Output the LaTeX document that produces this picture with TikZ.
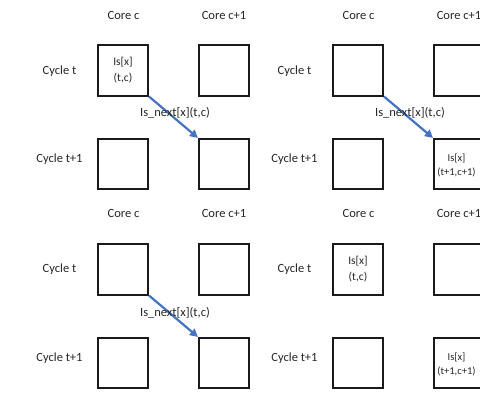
\documentclass[tikz,border=0pt]{standalone}
\usepackage{fontspec}
\setmainfont{Carlito}
\usetikzlibrary{arrows.meta}
\definecolor{arrblue}{HTML}{4472C4}
\definecolor{boxline}{HTML}{1A1A1A}
\begin{document}
\begin{tikzpicture}[x=1pt,y=-1pt,
  cell/.style={draw=boxline,line width=1.6pt,minimum size=50.5pt,inner sep=0pt,align=center},
  lbl/.style={font=\fontsize{12.5}{15}\selectfont,inner sep=0pt,text=black!85},
  intext/.style={font=\fontsize{11.5}{16}\selectfont,text=black!85},
  smalltext/.style={font=\fontsize{10.5}{14}\selectfont,text=black!85},
  flow/.style={draw=arrblue,line width=2.2pt,-{Triangle[length=8pt,width=8pt]}}]
\useasboundingbox (0,0) rectangle (480,392);
\fill[white] (0,0) rectangle (480,392);

% ---------- Panel 1 (top-left)
\node[lbl] (p1cc) at (123.5,15) {Core c};
\node[lbl] (p1cn) at (224,15) {Core c+1};
\node[lbl] (p1ct) at (59.5,71) {Cycle t};
\node[lbl] (p1cn1) at (59.5,159) {Cycle t+1};
\node[cell,intext] (p1a) at (123,70.5) {Is[x]\\(t,c)};
\node[cell] (p1b) at (224,70.5) {};
\node[cell] (p1c) at (123,164) {};
\node[cell] (p1d) at (224,164) {};
\draw[flow] (p1a.south east) -- (p1d.north west);
\node[lbl] (p1l) at (175,113) {Is\_next[x](t,c)};

% ---------- Panel 2 (top-right)
\node[lbl] (p2cc) at (358.5,15) {Core c};
\node[lbl] (p2cn) at (459,15) {Core c+1};
\node[lbl] (p2ct) at (294.5,71) {Cycle t};
\node[lbl] (p2cn1) at (294.5,159) {Cycle t+1};
\node[cell] (p2a) at (358,70.5) {};
\node[cell] (p2b) at (459,70.5) {};
\node[cell] (p2c) at (358,164) {};
\node[cell] (p2d) at (459,164) {};
\node[smalltext,align=center] (p2dt) at (456.5,165) {Is[x]\\(t+1,c+1)};
\draw[flow] (p2a.south east) -- (p2d.north west);
\node[lbl] (p2l) at (410,113) {Is\_next[x](t,c)};

% ---------- Panel 3 (bottom-left)
\node[lbl] (p3cc) at (123.5,213) {Core c};
\node[lbl] (p3cn) at (224,213) {Core c+1};
\node[lbl] (p3ct) at (59.5,269) {Cycle t};
\node[lbl] (p3cn1) at (59.5,358) {Cycle t+1};
\node[cell] (p3a) at (123,269.5) {};
\node[cell] (p3b) at (224,269.5) {};
\node[cell] (p3c) at (123,363) {};
\node[cell] (p3d) at (224,363) {};
\draw[flow] (p3a.south east) -- (p3d.north west);
\node[lbl] (p3l) at (175,313) {Is\_next[x](t,c)};

% ---------- Panel 4 (bottom-right)
\node[lbl] (p4cc) at (358.5,213) {Core c};
\node[lbl] (p4cn) at (459,213) {Core c+1};
\node[lbl] (p4ct) at (294.5,269) {Cycle t};
\node[lbl] (p4cn1) at (294.5,358) {Cycle t+1};
\node[cell,intext] (p4a) at (358,269.5) {Is[x]\\(t,c)};
\node[cell] (p4b) at (459,269.5) {};
\node[cell] (p4c) at (358,363) {};
\node[cell] (p4d) at (459,363) {};
\node[smalltext,align=center] (p4dt) at (456.5,364) {Is[x]\\(t+1,c+1)};
\end{tikzpicture}
\end{document}
